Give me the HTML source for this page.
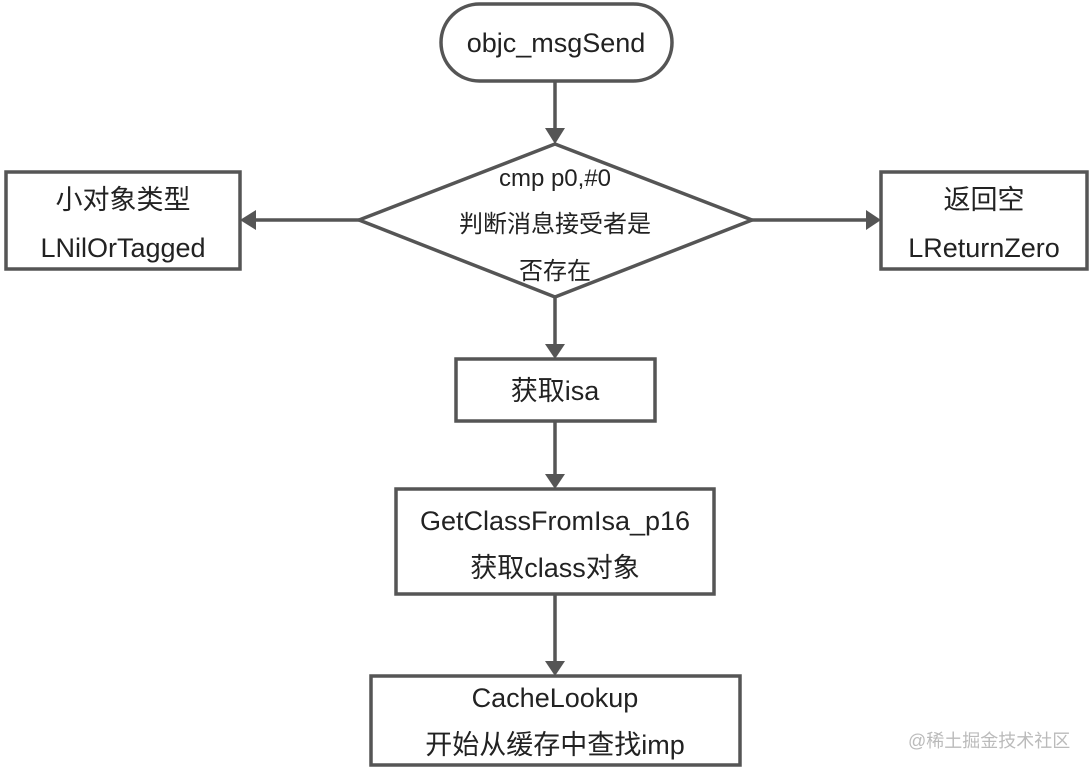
<!DOCTYPE html>
<html><head><meta charset="utf-8"><style>
html,body{margin:0;padding:0;background:#fff;}
svg text{font-family:"Liberation Sans","Noto Sans CJK SC",sans-serif;fill:#222;}
</style></head><body>
<svg width="1091" height="771" viewBox="0 0 1091 771" xmlns="http://www.w3.org/2000/svg">
<g stroke="#555" stroke-width="3.5" fill="#fff">
<rect x="441" y="4" width="231" height="77" rx="38.5"/>
<polygon points="555,144 752,220 555,297 359,220"/>
<rect x="6" y="172" width="234" height="97"/>
<rect x="881" y="172" width="206" height="97"/>
<rect x="456" y="359" width="199" height="62"/>
<rect x="396" y="489" width="318" height="105"/>
<rect x="371" y="676" width="369" height="89"/>
</g>
<g stroke="#555" stroke-width="3.5" fill="none">
<path d="M555,81 V131" /><path d="M555,297 V347"/><path d="M555,421 V477"/><path d="M555,594 V664"/>
<path d="M359,220 H252"/><path d="M752,220 H869"/>
</g>
<g fill="#555">
<path d="M545,128 L565,128 L555,144 z"/>
<path d="M545,344 L565,344 L555,359 z"/>
<path d="M545,474 L565,474 L555,489 z"/>
<path d="M545,661 L565,661 L555,676 z"/>
<path d="M256,210 L256,230 L240,220 z"/>
<path d="M866,210 L866,230 L881,220 z"/>
</g>
<g font-size="27" text-anchor="middle">
<text x="556" y="52">objc_msgSend</text>
<text x="555" y="186" font-size="24">cmp p0,#0</text>
<text x="555" y="232" font-size="24">判断消息接受者是</text>
<text x="555" y="279" font-size="24">否存在</text>
<text x="123" y="209">小对象类型</text>
<text x="123" y="257">LNilOrTagged</text>
<text x="984" y="209">返回空</text>
<text x="984" y="257">LReturnZero</text>
<text x="555" y="400">获取isa</text>
<text x="555" y="530">GetClassFromIsa_p16</text>
<text x="555" y="577">获取class对象</text>
<text x="555" y="707">CacheLookup</text>
<text x="555" y="754">开始从缓存中查找imp</text>
</g>
<text x="908" y="747" font-size="18" style="fill:#bbb">@稀土掘金技术社区</text>
</svg>
</body></html>
